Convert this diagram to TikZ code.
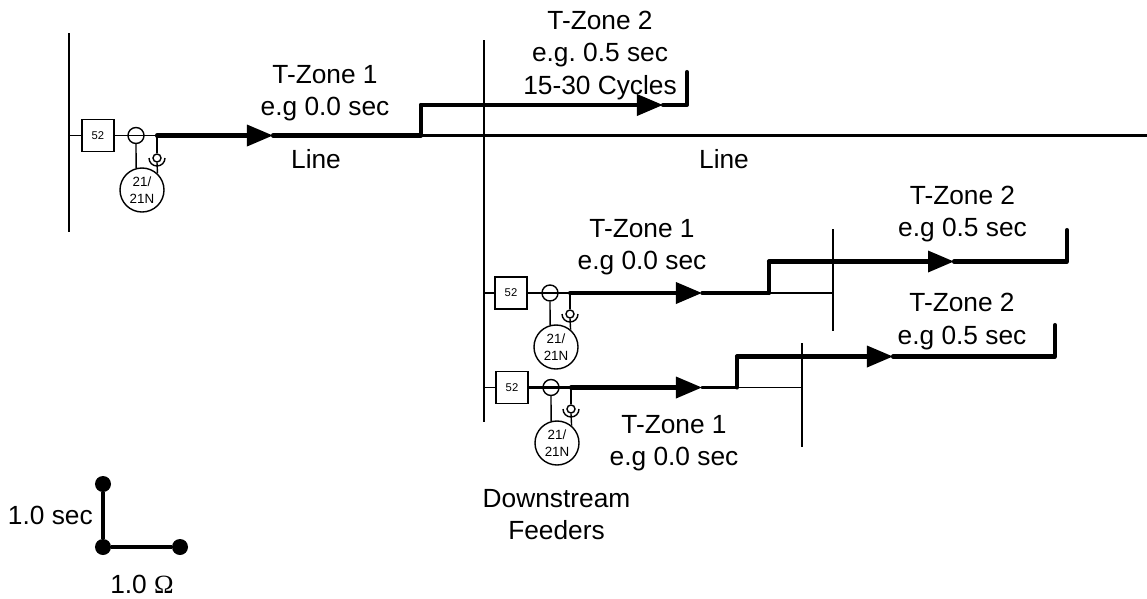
\documentclass[tikz,border=0pt]{standalone}
\usepackage{fontspec}
\setmainfont{Liberation Sans}
\newfontfamily\omegafont{Liberation Serif}
\usetikzlibrary{arrows.meta}
\frenchspacing

\begin{document}
\begin{tikzpicture}[
  x=0.025cm, y=-0.025cm,
  % ---- node styles ----
  brkbox/.style={
    draw, line width=1pt, minimum width=0.8cm, minimum height=0.8cm,
    inner sep=0pt, font=\fontsize{8}{9}\selectfont
  },
  ctcircle/.style={
    draw, line width=1pt, circle, minimum size=0.4cm, inner sep=0pt
  },
  relaycircle/.style={
    draw, line width=1pt, circle, fill=white, minimum size=1.1cm, inner sep=0pt,
    align=center, font=\fontsize{9.5}{12.5}\selectfont
  },
  sensecircle/.style={
    draw, line width=1pt, circle, fill=white, minimum size=0.2cm, inner sep=0pt
  },
  zonelabel/.style={
    align=center, inner sep=0pt, font=\fontsize{18.7}{22.9}\selectfont
  },
  scalelabel/.style={
    inner sep=0pt, font=\fontsize{18.7}{22.9}\selectfont
  },
  scaledot/.style={
    circle, fill=black, minimum size=0.4cm, inner sep=0pt
  },
  % ---- line styles ----
  busline/.style={line width=1.8pt},
  tapline/.style={line width=1.3pt},
  senseline/.style={line width=1pt},
  zoneline/.style={line width=2.9pt, line cap=round, line join=round},
  feedline/.style={line width=2.3pt},
  zonearrow/.style={zoneline, -{Triangle[length=0.65cm, width=0.52cm]}},
  scaleline/.style={line width=3.4pt},
]
\useasboundingbox (0,0) rectangle (1147,599);

% ---- Source bus ----
\coordinate (busAtop) at (69, 33);
\coordinate (busAbot) at (69, 232);
\draw[busline] (busAtop) -- (busAbot);

\node[brkbox] (brkA) at (98, 135.5) {52};
\node[ctcircle] (ctA) at (136, 135.5) {};
\node[relaycircle] (relayA) at (142, 190) {21/\\21N};
\node[sensecircle] (senseA) at (157, 158) {};
\coordinate (tapA) at (157, 135.5);
\draw[tapline] (brkA.west -| busAtop) -- (brkA.west);
\draw[tapline] (brkA.east) -- (tapA);
\draw[senseline] (ctA.south) -- (relayA.105);
\draw[senseline] (tapA) -- (senseA.north);
\draw[senseline] (senseA.south) -- (relayA.47);
\draw[senseline] ([xshift=-0.2cm]senseA.center) arc[start angle=180, end angle=360, radius=0.2cm];

% ---- Protected line, zones ----
\coordinate (arrowA) at (273, 135.5);
\coordinate (stepA) at (421, 135.5);
\coordinate (stepAup) at (421, 105);
\coordinate (arrowB) at (663, 105);
\coordinate (cornerB) at (687, 105);
\coordinate (endB) at (687, 72);
\coordinate (lineEnd) at (1147, 135.5);
\draw[busline] (stepA) -- (lineEnd);
\draw[zonearrow] (tapA) -- (arrowA);
\draw[zoneline] (arrowA) -- (stepA) -- (stepAup);
\draw[zonearrow] (stepAup) -- (arrowB);
\draw[zoneline] (arrowB) -- (cornerB) -- (endB);

% ---- Remote bus ----
\coordinate (busBtop) at (484, 40);
\coordinate (busBbot) at (484, 422);
\draw[busline] (busBtop) -- (busBbot);

% ---- Feeder 1 ----
\node[brkbox] (brkC) at (511, 293) {52};
\node[ctcircle] (ctC) at (550, 293) {};
\node[relaycircle] (relayC) at (556, 347) {21/\\21N};
\node[sensecircle] (senseC) at (570, 314) {};
\coordinate (tapC) at (570, 293);
\draw[tapline] (brkC.west -| busBtop) -- (brkC.west);
\draw[tapline] (brkC.east) -- (tapC);
\draw[senseline] (ctC.south) -- (relayC.105);
\draw[senseline] (tapC) -- (senseC.north);
\draw[senseline] (senseC.south) -- (relayC.50);
\draw[senseline] ([xshift=-0.2cm]senseC.center) arc[start angle=180, end angle=360, radius=0.2cm];

\coordinate (arrowC) at (702, 293);
\coordinate (stepC) at (769, 293);
\coordinate (stepCup) at (769, 261.5);
\coordinate (arrowD) at (954, 261.5);
\coordinate (cornerD) at (1067, 261.5);
\coordinate (endD) at (1067, 230);
\coordinate (busDtop) at (833, 229);
\coordinate (busDbot) at (833, 331);
\draw[busline] (busDtop) -- (busDbot);
\draw[tapline] (stepC) -- (stepC -| busDtop);
\draw[zonearrow] (tapC) -- (arrowC);
\draw[zoneline, feedline] (arrowC) -- (stepC);
\draw[zoneline] (stepC) -- (stepCup);
\draw[zonearrow] (stepCup) -- (arrowD);
\draw[zoneline] (arrowD) -- (cornerD) -- (endD);

% ---- Feeder 2 ----
\node[brkbox] (brkE) at (512, 387.5) {52};
\node[ctcircle] (ctE) at (551, 387.5) {};
\node[relaycircle] (relayE) at (557, 443) {21/\\21N};
\node[sensecircle] (senseE) at (571, 409) {};
\coordinate (tapE) at (571, 387.5);
\draw[tapline] (brkE.west -| busBtop) -- (brkE.west);
\draw[feedline] (brkE.east) -- (tapE);
\draw[senseline] (ctE.south) -- (relayE.105);
\draw[senseline] (tapE) -- (senseE.north);
\draw[senseline] (senseE.south) -- (relayE.50);
\draw[senseline] ([xshift=-0.2cm]senseE.center) arc[start angle=180, end angle=360, radius=0.2cm];

\coordinate (arrowE) at (702, 387.5);
\coordinate (stepE) at (737, 387.5);
\coordinate (stepEup) at (737, 356.5);
\coordinate (arrowF) at (893, 356.5);
\coordinate (cornerF) at (1055, 356.5);
\coordinate (endF) at (1055, 325);
\coordinate (busFtop) at (802, 343);
\coordinate (busFbot) at (802, 447);
\draw[busline] (busFtop) -- (busFbot);
\draw[tapline] (stepE) -- (stepE -| busFtop);
\draw[zonearrow] (tapE) -- (arrowE);
\draw[zoneline, feedline] (arrowE) -- (stepE);
\draw[zoneline] (stepE) -- (stepEup);
\draw[zonearrow] (stepEup) -- (arrowF);
\draw[zoneline] (arrowF) -- (cornerF) -- (endF);

% ---- Labels ----
\node[zonelabel] (lblA) at (325, 93.5) {T-Zone 1\\e.g 0.0 sec};
\node[zonelabel] (lblB) at (600, 55.5) {T-Zone 2\\e.g. 0.5 sec\\15-30 Cycles};
\node[zonelabel] (lineA) at (316, 159.5) {Line};
\node[zonelabel] (lineB) at (724, 159.5) {Line};
\node[zonelabel] (lblC) at (642, 247) {T-Zone 1\\e.g 0.0 sec};
\node[zonelabel] (lblD) at (962.5, 214) {T-Zone 2\\e.g 0.5 sec};
\node[zonelabel] (lblE) at (962, 321.5) {T-Zone 2\\e.g 0.5 sec};
\node[zonelabel] (lblF) at (674, 443.5) {T-Zone 1\\e.g 0.0 sec};
\node[zonelabel] (lblG) at (556.5, 514.5) {Downstream\\Feeders};

% ---- Scale ----
\node[scaledot] (scaleT) at (103, 484) {};
\node[scaledot] (scaleO) at (103, 547) {};
\node[scaledot] (scaleR) at (180, 547) {};
\draw[scaleline] (scaleT) -- (scaleO) -- (scaleR);
\node[scalelabel, anchor=east] (scaleY) at (93, 515) {1.0 sec};
\node[scalelabel] (scaleX) at (142, 584.5) {1.0 {\omegafont Ω}};

\end{tikzpicture}
\end{document}
